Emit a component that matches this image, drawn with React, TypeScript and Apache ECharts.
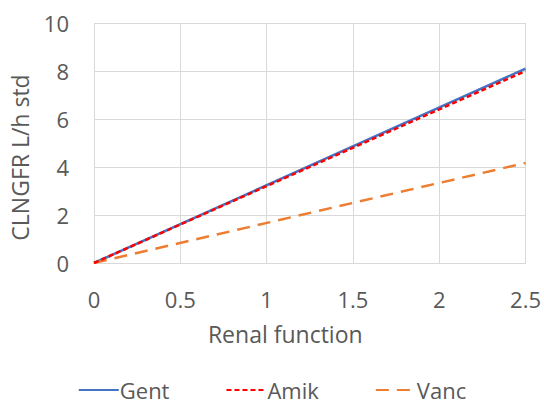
import React, { useEffect, useRef } from "react";
import * as echarts from "echarts";

const seriesNames = ["Gent", "Amik", "Vanc"];
const xPoints = [0, 2.5];
const gentValues = [0, 8.1];
const amikValues = [0, 8.0];
const vancValues = [0, 4.17];
const yTicks = [0, 2, 4, 6, 8, 10];

const FONT = "Open Sans";
const TXT = "#595959";

export default function App() {
  const ref = useRef<HTMLDivElement>(null);
  useEffect(() => {
    if (!ref.current) return;
    const chart = echarts.init(ref.current, null, { renderer: "svg" });
    const mk = (vals: number[]) => xPoints.map((x, i) => [x, vals[i]]);
    chart.setOption({
      animation: false,
      grid: { left: 93, right: 17, top: 23, bottom: 139, containLabel: false },
      xAxis: {
        type: "value",
        min: 0,
        max: 2.5,
        interval: 0.5,
        name: "Renal function",
        nameLocation: "middle",
        nameGap: 59,
        nameTextStyle: { fontFamily: FONT, fontSize: 23, color: TXT, padding: [0, 49, 0, 0] },
        axisLine: { show: true, lineStyle: { color: "#D9D9D9", width: 1 } },
        axisTick: { show: false },
        axisLabel: { fontFamily: FONT, fontSize: 22, color: TXT, margin: 25 },
        splitLine: { show: true, lineStyle: { color: "#D9D9D9", width: 1 } },
      },
      yAxis: {
        type: "value",
        min: yTicks[0],
        max: yTicks[yTicks.length - 1],
        interval: 2,
        name: "CLNGFR L/h std",
        nameLocation: "middle",
        nameGap: 63,
        nameRotate: 90,
        nameTextStyle: { fontFamily: FONT, fontSize: 23, color: TXT, padding: [0, 29, 0, 0] },
        axisLine: { show: false },
        axisTick: { show: false },
        axisLabel: { fontFamily: FONT, fontSize: 22, color: TXT, margin: 25 },
        splitLine: { show: true, lineStyle: { color: "#D9D9D9", width: 1 } },
      },
      legend: {
        bottom: 0,
        left: "center",
        padding: 0,
        itemWidth: 40,
        itemHeight: 14,
        itemGap: 56,
        itemStyle: { opacity: 0 },
        textStyle: { fontFamily: FONT, fontSize: 22, lineHeight: 24, color: TXT, padding: [0, 0, 0, -4] },
        data: seriesNames,
      },
      series: [
        {
          name: seriesNames[0],
          type: "line",
          data: mk(gentValues),
          symbol: "none",
          lineStyle: { color: "#4472C4", width: 2.5, type: "solid" },
          itemStyle: { color: "#4472C4" },
          z: 2,
        },
        {
          name: seriesNames[1],
          type: "line",
          data: mk(amikValues),
          symbol: "none",
          lineStyle: { color: "#FF0000", width: 2.5, type: [5, 3] },
          itemStyle: { color: "#FF0000" },
          z: 3,
        },
        {
          name: seriesNames[2],
          type: "line",
          data: mk(vancValues),
          symbol: "none",
          lineStyle: { color: "#ED7D31", width: 2.5, type: [13, 8] },
          itemStyle: { color: "#ED7D31" },
          z: 2,
        },
      ],
    });
    return () => chart.dispose();
  }, []);
  return <div ref={ref} style={{ width: 544, height: 402, position: "absolute", left: 0, top: 0 }} />;
}
